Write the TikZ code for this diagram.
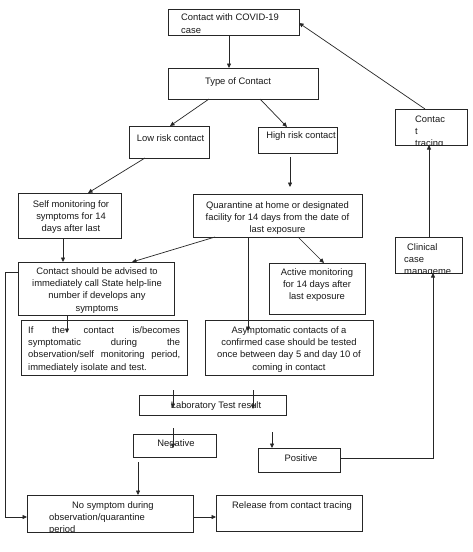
\documentclass[tikz,border=0pt]{standalone}
\usepackage{fontspec}
\setmainfont{Liberation Sans}
\usetikzlibrary{arrows.meta}
\tikzset{
 box/.style={draw=black!85, line width=0.8pt, inner sep=0pt, outer sep=0pt},
 txt/.style={inner sep=0pt, font=\fontsize{9.4}{12.2}\selectfont, text=black!90},
 arr/.style={draw=black!85, line width=0.7pt, -{Triangle[length=4.5pt,width=4pt]}},
 ln/.style={draw=black!85, line width=0.7pt},
}
\newcommand\bx[5]{\pgfmathsetmacro\bxw{#4-#2}\pgfmathsetmacro\bxh{#5-#3}%
 \node[box, minimum width=\bxw pt, minimum height=\bxh pt] (#1) at ({(#2+#4)/2},{(#3+#5)/2}) {};}
\begin{document}
\begin{tikzpicture}[x=1pt,y=-1pt]
\useasboundingbox[fill=white] (0,0) rectangle (472,552);
% boxes
\bx{covid}{168}{9}{299}{35}
\bx{type}{168}{68}{318}{99}
\bx{low}{129}{126}{209}{158}
\bx{high}{258}{127}{337}{153}
\bx{trace}{395}{109}{467}{145}
\bx{self}{18}{193}{121}{238}
\bx{quar}{193}{194}{362}{237}
\bx{adv}{18}{262}{174}{315}
\bx{active}{269}{263}{365}{314}
\bx{clin}{395}{237}{462}{273}
\bx{ifb}{21}{320}{187}{375}
\bx{asym}{205}{320}{373}{375}
\bx{lab}{139}{395}{286}{415}
\bx{neg}{133}{434}{216}{457}
\bx{pos}{258}{448}{340}{472}
\bx{nosym}{27}{495}{193}{532}
\bx{rel}{216}{495}{362}{531}
% texts
\begin{scope}
\clip (covid.south west) rectangle (covid.north east);
\node[txt, anchor=north west, align=left] (tcovid) at (181,13.8) {Contact with COVID-19\\case};
\end{scope}
\node[txt, anchor=north] (ttype) at (238,77.2) {Type of Contact};
\node[txt, anchor=north] (tlow) at (170.5,134.5) {Low risk contact};
\node[txt, anchor=north] (thigh) at (301,131.5) {High risk contact};
\begin{scope}
\clip (trace.south west) rectangle (trace.north east);
\node[txt, anchor=north west, align=left] (ttrace) at (415,115.5) {Contac\\t\\tracing};
\end{scope}
\node[txt, anchor=north, align=center] (tself) at (71,200.5) {Self monitoring for\\symptoms for 14\\days after last};
\node[txt, anchor=north, align=center] (tquar) at (277.5,201.5) {Quarantine at home or designated\\facility for 14 days from the date of\\last exposure};
\node[txt, anchor=north, align=center] (tadv) at (97,267.5) {Contact should be advised to\\immediately call State help-line\\number if develops any\\symptoms};
\node[txt, anchor=north, align=center] (tactive) at (317,268.5) {Active monitoring\\for 14 days after\\last exposure};
\begin{scope}
\clip (clin.south west) rectangle (clin.north east);
\node[txt, anchor=north west, align=left] (tclin) at (404,243.5) {\hspace*{3pt}Clinical\\case\\manageme};
\end{scope}
\node[txt, anchor=north west, text width=152pt, align=justify] (tifb) at (28,326.5) {If the contact is/becomes\linebreak symptomatic during the\linebreak observation/self monitoring period,\linebreak immediately isolate and test.};
\node[txt, anchor=north, align=center] (tasym) at (289,326.5) {Asymptomatic contacts of a\\confirmed case should be tested\\once between day 5 and day 10 of\\coming in contact};
\node[txt, anchor=north] (tlab) at (216,401.5) {Laboratory Test result};
\node[txt, anchor=north] (tneg) at (176,439.5) {Negative};
\node[txt, anchor=north] (tpos) at (301,454.5) {Positive};
\begin{scope}
\clip (nosym.south west) rectangle (nosym.north east);
\node[txt, anchor=north west, align=left] (tnosym) at (49,501.5) {\hspace*{23pt}No symptom during\\observation/quarantine\\period};
\end{scope}
\node[txt, anchor=north west] (trel) at (232,501.5) {Release from contact tracing};
% free-end coordinates
\coordinate (asymtip) at (248,331);
\coordinate (ifbtip) at (67,333);
\coordinate (laba) at (173,390);
\coordinate (labatip) at (173,408);
\coordinate (labb) at (253,390);
\coordinate (labbtip) at (253,409);
\coordinate (nega) at (173,428);
\coordinate (negatip) at (173,448);
\coordinate (posa) at (272,432);
\coordinate (negb) at (138,462);
% connectors
\draw[arr] (229,0 |- covid.south) -- (229,0 |- type.north);
\draw[arr] (209,0 |- type.south) -- (170,0 |- low.north);
\draw[arr] (260,0 |- type.south) -- (287,0 |- high.north);
\draw[arr] (145,0 |- low.south) -- (88,0 |- self.north);
\draw[arr, shorten <=4pt, shorten >=7pt] (290,0 |- high.south) -- (290,0 |- quar.north);
\draw[arr] (63,0 |- self.south) -- (63,0 |- adv.north);
\draw[arr] (215,0 |- quar.south) -- (132,0 |- adv.north);
\draw[arr] (298,0 |- quar.south) -- (324,0 |- active.north);
\draw[arr] (248,0 |- quar.south) -- (asymtip);
\draw[arr] (67,0 |- adv.south) -- (ifbtip);
\draw[arr] (adv.west |- 0,272) -- (5,272) -- (5,517) -- (nosym.west |- 0,517);
\draw[arr] (laba) -- (labatip);
\draw[arr] (labb) -- (labbtip);
\draw[arr] (nega) -- (negatip);
\draw[arr] (posa) -- (272,0 |- pos.north);
\draw[arr] (negb) -- (138,0 |- nosym.north);
\draw[arr] (pos.east |- 0,458) -- (433,458) -- (433,0 |- clin.south);
\draw[arr] (429,0 |- clin.north) -- (429,0 |- trace.south);
\draw[arr] (425,0 |- trace.north) -- (covid.east |- 0,23);
\draw[arr] (nosym.east |- 0,517) -- (rel.west |- 0,517);
\end{tikzpicture}
\end{document}
